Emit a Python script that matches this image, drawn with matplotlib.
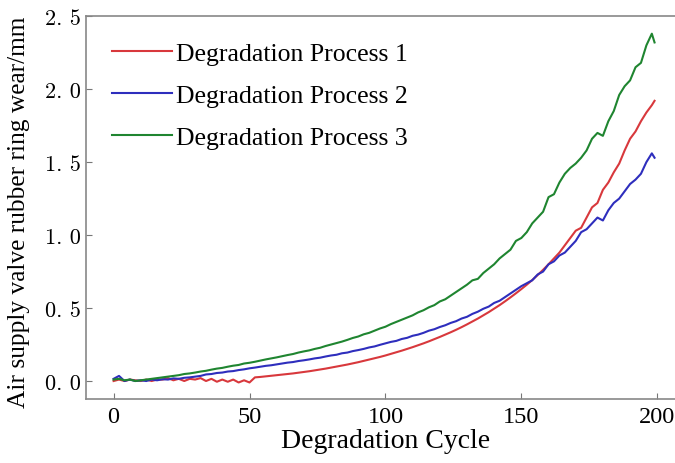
import numpy as np
import matplotlib
matplotlib.use("Agg")
import matplotlib.pyplot as plt
from matplotlib.ticker import FuncFormatter

# ciclos (passo 2 + ultimo ponto)
cycles = list(range(0, 200, 2)) + [199]

proc1 = [0.0, 0.01, 0.0, 0.01, 0.005, 0.0, 0.01, 0.0, 0.01,
         0.01, 0.02, 0.005, 0.015, 0.0, 0.015, 0.01, 0.02, 0.0, 0.015,
         -0.005, 0.01, -0.005, 0.01, -0.01, 0.005, -0.01,
         0.025, 0.028, 0.032, 0.036, 0.04, 0.044, 0.048, 0.052, 0.057, 0.062,
         0.067, 0.073, 0.079, 0.085, 0.092, 0.099, 0.106, 0.113, 0.121, 0.129,
         0.138, 0.147, 0.156, 0.165, 0.175, 0.186, 0.197, 0.208, 0.22, 0.232,
         0.245, 0.258, 0.272, 0.287, 0.302, 0.318, 0.334, 0.351, 0.369, 0.388,
         0.408, 0.428, 0.45, 0.472, 0.496, 0.52, 0.546, 0.573, 0.601, 0.63,
         0.66, 0.692, 0.726, 0.762, 0.8, 0.84, 0.88, 0.93, 0.98, 1.03,
         1.05, 1.12, 1.19, 1.22, 1.31, 1.36, 1.43, 1.49, 1.58, 1.66,
         1.71, 1.78, 1.84, 1.89, 1.92]

proc2 = [0.015, 0.035, 0.0, 0.01, 0.0, 0.005, 0.0, 0.01, 0.005, 0.012,
         0.01, 0.018, 0.015, 0.022, 0.025, 0.03, 0.035, 0.045, 0.048, 0.055,
         0.058, 0.065, 0.068, 0.075, 0.08, 0.087, 0.092, 0.098, 0.104, 0.108,
         0.114, 0.12, 0.126, 0.13, 0.137, 0.142, 0.148, 0.155, 0.16, 0.168,
         0.175, 0.18, 0.19, 0.195, 0.205, 0.212, 0.22, 0.23, 0.237, 0.248,
         0.258, 0.268, 0.275, 0.288, 0.296, 0.31, 0.318, 0.33, 0.345, 0.355,
         0.37, 0.382, 0.398, 0.41, 0.428, 0.44, 0.46, 0.475, 0.495, 0.51,
         0.535, 0.55, 0.575, 0.6, 0.625, 0.65, 0.67, 0.69, 0.73, 0.75,
         0.8, 0.82, 0.86, 0.88, 0.92, 0.96, 1.02, 1.04, 1.08, 1.12,
         1.10, 1.17, 1.22, 1.25, 1.3, 1.35, 1.38, 1.42, 1.5, 1.56, 1.53]

proc3 = [0.01, 0.015, 0.005, 0.01, 0.0, 0.005, 0.01, 0.015, 0.02, 0.025,
         0.03, 0.035, 0.04, 0.048, 0.052, 0.058, 0.065, 0.07, 0.078, 0.085,
         0.09, 0.098, 0.105, 0.11, 0.12, 0.125, 0.132, 0.14, 0.148, 0.155,
         0.162, 0.17, 0.178, 0.185, 0.195, 0.203, 0.21, 0.22, 0.228, 0.24,
         0.25, 0.26, 0.27, 0.282, 0.295, 0.305, 0.32, 0.33, 0.345, 0.36,
         0.372, 0.39, 0.405, 0.42, 0.435, 0.45, 0.47, 0.485, 0.505, 0.52,
         0.545, 0.56, 0.585, 0.61, 0.635, 0.66, 0.69, 0.7, 0.74, 0.77,
         0.8, 0.84, 0.87, 0.9, 0.96, 0.98, 1.02, 1.08, 1.12, 1.16,
         1.26, 1.28, 1.36, 1.42, 1.46, 1.49, 1.53, 1.58, 1.66, 1.70,
         1.68, 1.78, 1.85, 1.96, 2.02, 2.06, 2.15, 2.18, 2.30, 2.38, 2.32]

labels = ["Degradation Process 1", "Degradation Process 2", "Degradation Process 3"]
cores = ["#d8383c", "#2e2ebd", "#1f8530"]

plt.rcParams['font.family'] = ['Liberation Serif', 'DejaVu Serif']

fig = plt.figure(figsize=(6.75, 4.64), dpi=100)
ax = fig.add_axes([0.128, 0.138, 0.886, 0.825])

for serie, lab, c in zip([proc1, proc2, proc3], labels, cores):
    ax.plot(cycles, serie, color=c, lw=1.5, label=lab)

ax.set_xlim(-10, 210)
ax.set_ylim(-0.123, 2.5)
ax.set_xticks([0, 50, 100, 150, 200])
ax.set_yticks([0.0, 0.5, 1.0, 1.5, 2.0, 2.5])
ax.yaxis.set_major_formatter(FuncFormatter(lambda v, p: f"{v:.1f}".replace(".", ". ")))
ax.tick_params(direction="in", length=4, color="#777777")
ax.tick_params(axis="x", labelsize=17.5, pad=5)
ax.tick_params(axis="y", labelsize=16, pad=4)
for t in ax.get_yticklabels():
    t.set_family("cmr10")
for s in ax.spines.values():
    s.set_color("#888888")
    s.set_linewidth(1.2)
ax.spines["right"].set_visible(False)

ax.set_xlabel("Degradation Cycle", fontsize=20)
ax.set_ylabel("Air supply valve rubber ring wear/mm", fontsize=18.3)
ax.xaxis.set_label_coords(0.5, -0.075)
ax.yaxis.set_label_coords(-0.094, 0.49)

ax.legend(loc="upper left", frameon=False, fontsize=18.5, handlelength=2.33,
          handletextpad=0.15, labelspacing=0.73, borderpad=0, borderaxespad=0,
          bbox_to_anchor=(0.043, 0.932))

fig.savefig("out.png", dpi=100)
